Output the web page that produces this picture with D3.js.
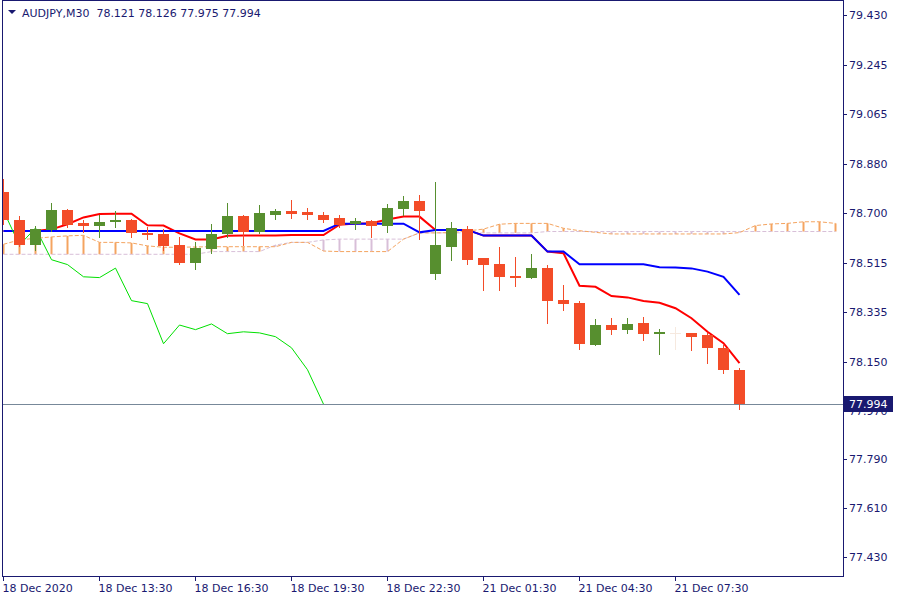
<!DOCTYPE html>
<html><head><meta charset="utf-8">
<script src="https://cdn.jsdelivr.net/npm/d3@7"></script>
<style>
html,body{margin:0;padding:0;background:#fff;}
svg{display:block;font-family:"DejaVu Sans",sans-serif;}
</style>
</head><body>
<svg id="chart" width="900" height="600"></svg>
<script>
// ---------- data ----------
const symbolTitle = "AUDJPY,M30";
const headerValues = ["78.121", "78.126", "77.975", "77.994"];
const times = ["18 Dec 10:30","18 Dec 11:00","18 Dec 11:30","18 Dec 12:00","18 Dec 12:30","18 Dec 13:00","18 Dec 13:30","18 Dec 14:00","18 Dec 14:30","18 Dec 15:00","18 Dec 15:30","18 Dec 16:00","18 Dec 16:30","18 Dec 17:00","18 Dec 17:30","18 Dec 18:00","18 Dec 18:30","18 Dec 19:00","18 Dec 19:30","18 Dec 20:00","18 Dec 20:30","18 Dec 21:00","18 Dec 21:30","18 Dec 22:00","18 Dec 22:30","18 Dec 23:00","18 Dec 23:30",
"21 Dec 00:00","21 Dec 00:30","21 Dec 01:00","21 Dec 01:30","21 Dec 02:00","21 Dec 02:30","21 Dec 03:00","21 Dec 03:30","21 Dec 04:00","21 Dec 04:30","21 Dec 05:00","21 Dec 05:30","21 Dec 06:00","21 Dec 06:30","21 Dec 07:00","21 Dec 07:30","21 Dec 08:00","21 Dec 08:30","21 Dec 09:00","21 Dec 09:30"];
const open  = [78.777,78.674,78.581,78.637,78.710,78.663,78.653,78.667,78.674,78.627,78.622,78.581,78.516,78.568,78.622,78.688,78.630,78.692,78.707,78.704,78.692,78.681,78.660,78.670,78.651,78.715,78.744,78.475,78.575,78.640,78.533,78.511,78.467,78.461,78.496,78.378,78.367,78.213,78.286,78.269,78.293,78.254,78.257,78.257,78.249,78.202,78.121];
const high  = [78.825,78.688,78.651,78.737,78.714,78.673,78.692,78.707,78.676,78.649,78.639,78.610,78.591,78.659,78.737,78.692,78.729,78.715,78.747,78.718,78.704,78.692,78.682,78.674,78.733,78.762,78.766,78.813,78.666,78.651,78.533,78.573,78.537,78.548,78.508,78.434,78.376,78.308,78.312,78.312,78.316,78.271,78.279,78.257,78.257,78.212,78.126];
const low   = [78.660,78.576,78.563,78.633,78.649,78.630,78.612,78.646,78.612,78.605,78.563,78.511,78.492,78.552,78.612,78.581,78.627,78.678,78.682,78.678,78.665,78.647,78.639,78.612,78.630,78.692,78.603,78.457,78.527,78.512,78.416,78.416,78.431,78.461,78.295,78.341,78.199,78.213,78.254,78.258,78.232,78.180,78.199,78.195,78.147,78.110,77.975];
const close = [78.672,78.581,78.640,78.710,78.654,78.653,78.667,78.675,78.624,78.619,78.579,78.514,78.570,78.622,78.688,78.630,78.700,78.707,78.697,78.692,78.674,78.654,78.670,78.651,78.718,78.744,78.707,78.581,78.644,78.527,78.509,78.464,78.461,78.496,78.376,78.365,78.217,78.286,78.269,78.290,78.254,78.261,78.257,78.243,78.202,78.121,77.994];
// Ichimoku lines
const tenkan = [78.633,78.633,78.633,78.639,78.658,78.683,78.696,78.697,78.697,78.654,78.653,78.624,78.602,78.602,78.615,78.616,78.616,78.616,78.618,78.618,78.618,78.656,78.661,78.662,78.675,78.686,78.686,78.637,78.637,78.637,78.616,78.616,78.616,78.616,78.557,78.551,78.431,78.427,78.393,78.388,78.375,78.368,78.348,78.311,78.261,78.219,78.145];
const kijun  = [78.633,78.633,78.633,78.633,78.633,78.633,78.633,78.633,78.633,78.633,78.633,78.633,78.633,78.633,78.633,78.633,78.633,78.633,78.633,78.633,78.633,78.660,78.660,78.660,78.660,78.660,78.628,78.637,78.637,78.637,78.616,78.616,78.616,78.616,78.557,78.557,78.510,78.510,78.510,78.510,78.510,78.499,78.498,78.495,78.483,78.464,78.397];
const chikou = [78.707,78.581,78.644,78.527,78.509,78.464,78.461,78.496,78.376,78.365,78.217,78.286,78.269,78.290,78.254,78.261,78.257,78.243,78.202,78.121,77.994];
const spanA  = [78.584,78.600,78.606,78.611,78.615,78.617,78.591,78.591,78.589,78.578,78.573,78.573,78.574,78.575,78.575,78.575,78.575,78.575,78.591,78.591,78.559,78.557,78.557,78.557,78.557,78.603,78.626,78.626,78.627,78.633,78.640,78.658,78.661,78.661,78.661,78.643,78.634,78.628,78.622,78.622,78.622,78.622,78.622,78.622,78.622,78.622,78.627,78.653,78.659,78.661,78.667,78.667,78.661];
const spanB  = [78.547,78.547,78.547,78.547,78.547,78.547,78.547,78.547,78.547,78.547,78.547,78.547,78.547,78.557,78.557,78.557,78.557,78.581,78.591,78.591,78.600,78.603,78.603,78.603,78.603,78.603,78.626,78.626,78.626,78.626,78.626,78.626,78.626,78.626,78.631,78.631,78.631,78.631,78.631,78.631,78.631,78.631,78.631,78.631,78.631,78.631,78.631,78.631,78.631,78.631,78.631,78.631,78.631];
const yTickValues = [79.430,79.245,79.065,78.880,78.700,78.515,78.335,78.150,77.970,77.790,77.610,77.430];
const xTickIndex  = [0,6,12,18,24,30,36,42];
const xTickLabels = ["18 Dec 2020","18 Dec 13:30","18 Dec 16:30","18 Dec 19:30","18 Dec 22:30","21 Dec 01:30","21 Dec 04:30","21 Dec 07:30"];
const lastPrice = 77.994;

// ---------- drawing ----------
const svg = d3.select("#chart");
const navy = "#191970";
const upCol = "#578f2f", dnCol = "#f34c28", dojiCol = "#f6e9df";

const x = d3.scaleLinear().domain([0, 52]).range([3.5, 835.5]);
const y = d3.scaleLinear().domain([77.430, 79.430]).range([557, 15]);

svg.append("defs").append("clipPath").attr("id","plotclip")
  .append("rect").attr("x",3).attr("y",1).attr("width",840).attr("height",575);

const plot = svg.append("g").attr("clip-path","url(#plotclip)");

// cloud (kumo) vertical bars
const cloud = d3.range(spanA.length).map(i => ({i, a: spanA[i], b: spanB[i]}));
plot.append("g").selectAll("line").data(cloud.filter(d => Math.abs(d.a - d.b) > 0.0005)).join("line")
  .attr("x1", d => x(d.i)).attr("x2", d => x(d.i))
  .attr("y1", d => y(d.a)).attr("y2", d => y(d.b))
  .attr("stroke", d => d.a > d.b ? "#f4a460" : "#d8bfd8")
  .attr("stroke-width", 2);

const line = d3.line().x((d, i) => x(i)).y(d => y(d));

// senkou span lines (dotted)
plot.append("path").datum(spanB).attr("d", line).attr("fill","none")
  .attr("stroke","#d8bfd8").attr("stroke-width",1).attr("stroke-dasharray","4,2");
plot.append("path").datum(spanA).attr("d", line).attr("fill","none")
  .attr("stroke","#f4a460").attr("stroke-width",1).attr("stroke-dasharray","4,2");

// tenkan, kijun, chikou
plot.append("path").datum(tenkan).attr("d", line).attr("fill","none")
  .attr("stroke","#ff0000").attr("stroke-width",2);
plot.append("path").datum(kijun).attr("d", line).attr("fill","none")
  .attr("stroke","#0000ff").attr("stroke-width",2);
plot.append("path").datum(chikou).attr("d", line).attr("fill","none")
  .attr("stroke","#00e000").attr("stroke-width",1);

// current price line
plot.append("line").attr("x1",3).attr("x2",843)
  .attr("y1", Math.round(y(lastPrice)) + 0.5).attr("y2", Math.round(y(lastPrice)) + 0.5)
  .attr("stroke","#778899").attr("stroke-width",1);

// candles
const candles = d3.range(open.length).map(i => ({i, o: open[i], h: high[i], l: low[i], c: close[i]}));
const colOf = d => d.c > d.o ? upCol : (d.c < d.o ? dnCol : dojiCol);
const cg = plot.append("g").attr("shape-rendering","crispEdges");
cg.selectAll("line").data(candles).join("line")
  .attr("x1", d => x(d.i)).attr("x2", d => x(d.i))
  .attr("y1", d => Math.round(y(d.h))).attr("y2", d => Math.round(y(d.l)) + 1)
  .attr("stroke", colOf).attr("stroke-width", 1);
cg.selectAll("rect").data(candles).join("rect")
  .attr("x", d => x(d.i) - 5.5).attr("width", 11)
  .attr("y", d => Math.round(y(Math.max(d.o, d.c))))
  .attr("height", d => Math.max(1, Math.round(y(Math.min(d.o, d.c))) - Math.round(y(Math.max(d.o, d.c)))))
  .attr("fill", colOf);

// frame
svg.append("rect").attr("x",2.5).attr("y",0.5).attr("width",841).attr("height",576)
  .attr("fill","none").attr("stroke",navy).attr("stroke-width",1).attr("shape-rendering","crispEdges");

// y axis
const yAxis = svg.append("g").attr("font-size", 11).attr("fill", navy);
yAxis.selectAll("line").data(yTickValues).join("line")
  .attr("x1",843).attr("x2",847)
  .attr("y1", d => Math.round(y(d)) + 0.5).attr("y2", d => Math.round(y(d)) + 0.5)
  .attr("stroke", navy).attr("stroke-width",1);
yAxis.selectAll("text").data(yTickValues).join("text")
  .attr("x", 849).attr("y", d => y(d) + 4)
  .text(d => d.toFixed(3));

// current price tag
const py = Math.round(y(lastPrice));
svg.append("rect").attr("x",844).attr("y",py - 8).attr("width",49).attr("height",16).attr("fill",navy);
svg.append("text").attr("x",849).attr("y",py + 4).attr("font-size",11).attr("fill","#ffffff").text(lastPrice.toFixed(3));

// x axis
const xAxis = svg.append("g").attr("font-size", 11).attr("fill", navy);
xAxis.selectAll("line").data(xTickIndex).join("line")
  .attr("x1", d => Math.floor(x(d)) + 0.5).attr("x2", d => Math.floor(x(d)) + 0.5)
  .attr("y1", 576).attr("y2", 581)
  .attr("stroke", navy).attr("stroke-width",1);
xAxis.selectAll("text").data(xTickIndex).join("text")
  .attr("x", d => x(d) - 1).attr("y", 592)
  .text((d, k) => xTickLabels[k]);

// header
svg.append("path").attr("d","M8,10 L16,10 L12,14 Z").attr("fill",navy);
svg.append("text").attr("x",22).attr("y",17).attr("font-size",11).attr("fill",navy)
  .style("white-space","pre")
  .text(symbolTitle + "  " + headerValues.join(" "));
</script>
</body></html>
